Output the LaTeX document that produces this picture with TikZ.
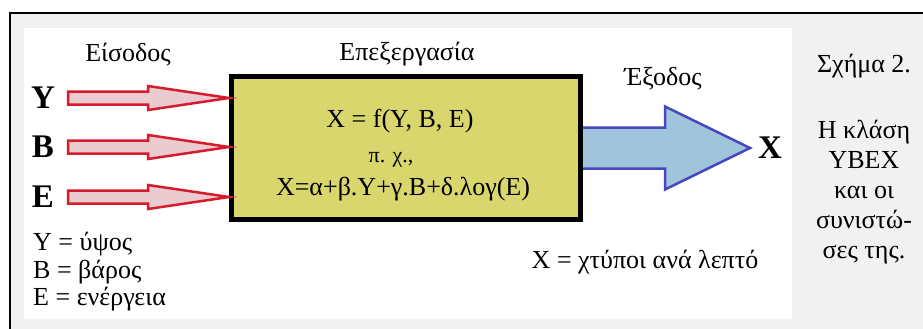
\documentclass[tikz,border=0pt]{standalone}
\usepackage{fontspec}
\setmainfont{Liberation Serif}
\usetikzlibrary{calc, positioning}

\definecolor{panelgray}{RGB}{241,241,241}
\definecolor{boxfill}{RGB}{216,214,108}
\definecolor{arrred}{RGB}{212,28,44}
\definecolor{arrpink}{RGB}{234,204,208}
\definecolor{arrblue}{RGB}{72,70,190}
\definecolor{arrsky}{RGB}{160,196,220}

% #1 style, #2 tail, #3 tip, #4 shaft half, #5 head half, #6 head length
\newcommand{\fatarrow}[6]{%
  \draw[#1] ($(#2)+(0,-#4)$) -- ($(#3)+(-#6,-#4)$) -- ($(#3)+(-#6,-#5)$)
    -- (#3) -- ($(#3)+(-#6,#5)$) -- ($(#3)+(-#6,#4)$) -- ($(#2)+(0,#4)$) -- cycle;}

\begin{document}
\begin{tikzpicture}[x=1pt, y=-1pt,
  txt/.style={font=\fontsize{26}{30}\selectfont, inner sep=0pt, anchor=base},
  small/.style={font=\fontsize{22}{26}\selectfont, inner sep=0pt, anchor=base},
  varlbl/.style={font=\fontsize{33}{33}\selectfont\bfseries, inner sep=0pt},
  inarr/.style={draw=arrred, fill=arrpink, line width=2.5pt, line join=miter},
  outarr/.style={draw=arrblue, fill=arrsky, line width=2.5pt, line join=miter},
  procbox/.style={draw, line width=5pt, fill=boxfill,
                  minimum width=349pt, minimum height=143pt}
]
  \useasboundingbox (0,0) rectangle (923,329);
  \fill[white] (0,0) rectangle (923,329);
  \draw[line width=2pt, fill=panelgray] (10,13) rectangle (940,345);
  \fill[white] (24,28) rectangle (792,319);

  % input variables
  \node[varlbl] (lY) at (43,98)  {Y};
  \node[varlbl] (lB) at (43,147) {B};
  \node[varlbl] (lE) at (43,197) {E};

  \coordinate (tY) at (68,98);
  \coordinate (tB) at (68,147);
  \coordinate (tE) at (68,197);
  \coordinate (tX) at (580,148);
  \coordinate (pX) at (750,148);

  \node[varlbl, right=8pt of pX] (lX) {X};

  \fatarrow{outarr}{tX}{pX}{20.5}{41.5}{85}

  \node[procbox] (box) at (406,148) {};
  \foreach \v in {Y,B,E}{
    \coordinate (h\v) at (box.west |- t\v);
    \fatarrow{inarr}{t\v}{h\v}{6.5}{12}{81}
  }

  % headings
  \node[txt] (in)   at (128,62) {Είσοδος};
  \node[txt] (proc) at (407,60) {Επεξεργασία};
  \node[txt] (out)  at (663,85) {Έξοδος};

  % inside the box
  \node[txt]   (fx)  at (400,127) {X = f(Y, B, E)};
  \node[small] (eg)  at (391,162) {π. χ.,};
  \node[txt]   (eq)  at (403,195) {X=α+β.Y+γ.B+δ.λογ(E)};

  % legend
  \node[txt, anchor=base west] (gY) at (33,250) {Y = ύψος};
  \node[txt, anchor=base west] (gB) at (33,278) {B = βάρος};
  \node[txt, anchor=base west] (gE) at (33,305) {E = ενέργεια};
  \node[txt] (gX) at (645,268) {X = χτύποι ανά λεπτό};

  % caption
  \node[txt] (fig) at (864,72) {Σχήμα 2.};
  \node[txt, align=center, font=\fontsize{26}{30}\selectfont]
    (cap) at (864,258) {Η κλάση\\YBEX\\και οι\\συνιστώ-\\σες της.};
\end{tikzpicture}
\end{document}
